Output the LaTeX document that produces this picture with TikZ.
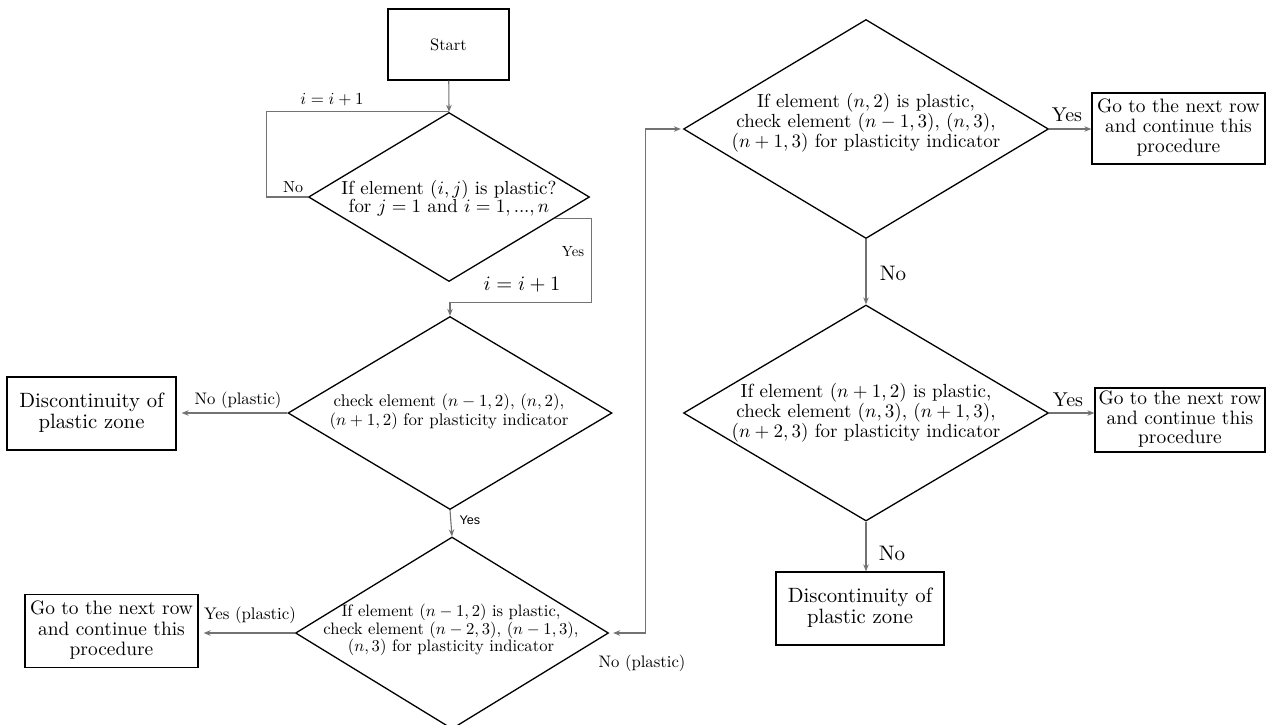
\RequirePackage{fix-cm}
\documentclass[tikz,border=0pt]{standalone}
\usepackage{fontspec}
\usepackage{graphicx}
\newfontfamily\hvfont{Liberation Sans}
\usetikzlibrary{shapes.geometric,arrows.meta,calc}
\definecolor{lncol}{HTML}{737373}
\tikzset{
  boxnode/.style={draw=black, line width=1.3pt, align=center, inner sep=0pt},
  dianode/.style={draw=black, diamond, line width=1.3pt, inner sep=0pt},
  txtnode/.style={align=center, inner sep=0pt},
  lbl/.style={inner sep=0pt},
  conn/.style={draw=lncol, line width=1.1pt},
  arr/.style={conn, -{Stealth[length=7pt,width=5.5pt]}},
  dblarr/.style={conn, {Stealth[length=7pt,width=5.5pt]}-{Stealth[length=7pt,width=5.5pt]}},
}
% scaled 10pt text block: #1 scale, #2 baselineskip (pt at 10pt), #3 lines
\newcommand{\scl}[3]{\scalebox{#1}{\fontsize{10}{#2}\selectfont\begin{tabular}{@{}c@{}}#3\end{tabular}}}
\newcommand{\scw}[2]{\scalebox{#1}{\fontsize{10}{12}\selectfont #2}}
\begin{document}
\begin{tikzpicture}[x=1pt,y=-1pt]
\useasboundingbox (0,0) rectangle (1268,724);
\fill[white] (0,0) rectangle (1268,724);

% boxes
\node[boxnode, minimum width=121, minimum height=71] (start) at (448.5,44.5) {\scw{1.65}{Start}};
\node[boxnode, minimum width=169, minimum height=73] (disc1) at (91.5,413.5) {\scl{2.07}{10}{Discontinuity of\\plastic zone}};
\node[boxnode, minimum width=173, minimum height=73] (go1) at (111.5,631) {\scl{1.94}{10.5}{Go to the next row\\and continue this\\procedure}};
\node[boxnode, minimum width=173, minimum height=71] (go4) at (1178.5,128.5) {\scl{1.94}{10.5}{Go to the next row\\and continue this\\procedure}};
\node[boxnode, minimum width=170, minimum height=64] (go5) at (1180,420) {\scl{1.94}{10.3}{Go to the next row\\and continue this\\procedure}};
\node[boxnode, minimum width=168, minimum height=73] (disc2) at (860,608.5) {\scl{2.07}{10.3}{Discontinuity of\\plastic zone}};

% diamonds
\node[dianode, minimum width=281, minimum height=169] (d1) at (449,197) {};
\node[txtnode] (t1) at (449,199) {\scl{1.89}{9.5}{If element $(i,j)$ is plastic?\\for $j=1$ and $i=1,...,n$}};
\node[dianode, minimum width=324, minimum height=193] (d2) at (450,413) {};
\node[txtnode] (t2) at (449,412.5) {\scl{1.69}{11.2}{check element $(n-1,2)$, $(n,2)$,\\$(n+1,2)$ for plasticity indicator}};
\node[dianode, minimum width=313, minimum height=192] (d3) at (452,633) {};
\node[txtnode] (t3) at (451,630.5) {\scl{1.66}{10.4}{If element $(n-1,2)$ is plastic,\\check element $(n-2,3)$, $(n-1,3)$,\\$(n,3)$ for plasticity indicator}};
\node[dianode, minimum width=365, minimum height=219] (d4) at (866,129) {};
\node[txtnode] (t4) at (866,123.5) {\scl{1.9}{10.3}{If element $(n,2)$ is plastic,\\check element $(n-1,3)$, $(n,3)$,\\$(n+1,3)$ for plasticity indicator}};
\node[dianode, minimum width=365, minimum height=216] (d5) at (866,413) {};
\node[txtnode] (t5) at (866,413) {\scl{1.9}{10.3}{If element $(n+1,2)$ is plastic,\\check element $(n,3)$, $(n+1,3)$,\\$(n+2,3)$ for plasticity indicator}};

% connectors
\draw[arr] (start) -- (d1.north);
\draw[conn] (d1.west) -- ++(-41,0) |- (d1.north);
\coordinate (y1) at ($(d1.east)!0.25!(d1.south)$);
\coordinate (y1b) at ($(d2.north)+(0,-13)$);
\draw[arr] (y1) -- ++(37,0) |- (y1b) -- (d2.north);
\draw[arr, shorten >=5pt] (d2.west) -- (d2.west -| disc1.east);
\draw[arr] (d2.south) -- (d3.north);
\draw[arr, shorten >=5pt] (d3.west) -- (d3.west -| go1.east);
\draw[dblarr, shorten <=4pt, shorten >=2pt] (d3.east) -- ++(36,0) |- (d4.west);
\draw[arr] (d4.east) -- (d4.east -| go4.west);
\draw[arr] (d4.south) -- (d5.north);
\draw[arr] (d5.east) -- (d5.east -| go5.west);
\draw[arr] (d5.south) -- (d5.south |- disc2.north);

% labels
\node[lbl] at (332,100) {\scw{1.69}{$i=i+1$}};
\node[lbl] at (293,187) {\scw{1.6}{No}};
\node[lbl] at (573,252) {\scw{1.47}{Yes}};
\node[lbl] at (522,285) {\scw{2.05}{$i=i+1$}};
\node[lbl] at (238,400) {\scw{1.67}{No (plastic)}};
\node[lbl] at (470,520) {\scw{1.26}{\hvfont Yes}};
\node[lbl] at (250,615) {\scw{1.68}{Yes (plastic)}};
\node[lbl] at (642,663) {\scw{1.67}{No (plastic)}};
\node[lbl] at (1067,115) {\scw{2.0}{Yes}};
\node[lbl] at (893,273) {\scw{2.1}{No}};
\node[lbl] at (1068,400) {\scw{2.0}{Yes}};
\node[lbl] at (892,553) {\scw{2.1}{No}};
\end{tikzpicture}
\end{document}
